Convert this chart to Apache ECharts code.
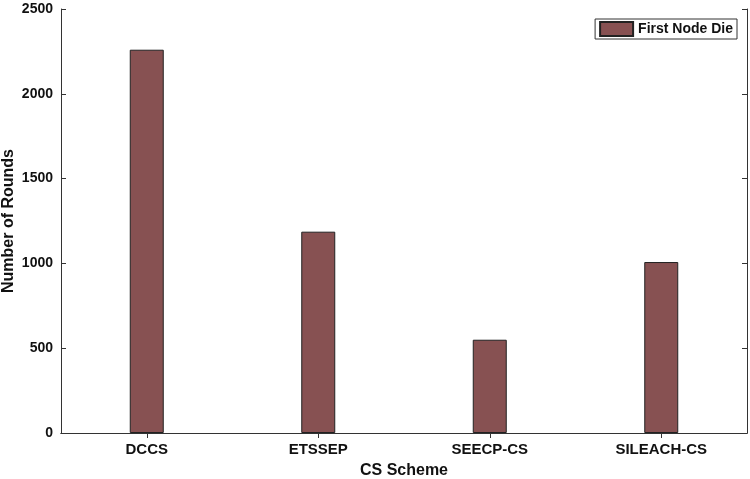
<!DOCTYPE html>
<html><head><meta charset="utf-8">
<script src="https://cdn.jsdelivr.net/npm/echarts@6/dist/echarts.min.js"></script>
<style>html,body{margin:0;padding:0;background:#fff}#c{width:750px;height:479px}</style>
</head><body><div id="c"></div>
<script>
const categories = ['DCCS', 'ETSSEP', 'SEECP-CS', 'SILEACH-CS'];
const firstNodeDie = [2260, 1187, 550, 1008];
const yTicks = [0, 500, 1000, 1500, 2000, 2500];

const font = 'Liberation Sans, Arial, Helvetica, sans-serif';
const axisLine = {show: true, lineStyle: {color: '#333', width: 1}};
const chart = echarts.init(document.getElementById('c'));
chart.setOption({
  animation: false,
  backgroundColor: '#fff',
  grid: {left: 61, right: 3, top: 9, bottom: 46, containLabel: false, outerBoundsMode: 'none'},
  legend: {
    right: 13, top: 19,
    data: ['First Node Die'],
    icon: 'rect',
    itemWidth: 33, itemHeight: 14, itemGap: 4,
    borderColor: '#333', borderWidth: 1, padding: [2, 4, 2, 4],
    textStyle: {fontFamily: font, fontWeight: 'bold', fontSize: 14, color: '#111'}
  },
  xAxis: [{
    type: 'category', data: categories, position: 'bottom',
    axisLine: axisLine,
    axisTick: {show: true, inside: true, length: 5, alignWithLabel: true, lineStyle: {color: '#333'}},
    axisLabel: {fontFamily: font, fontWeight: 'bold', fontSize: 15, color: '#111', margin: 9},
    name: 'CS Scheme', nameLocation: 'middle', nameGap: 30,
    nameTextStyle: {fontFamily: font, fontWeight: 'bold', fontSize: 16, color: '#111'}
  }, {
    type: 'category', data: categories, position: 'top',
    axisLine: axisLine,
    axisTick: {show: true, inside: true, length: 5, alignWithLabel: true, lineStyle: {color: '#333'}},
    axisLabel: {show: false}
  }],
  yAxis: [{
    type: 'value', min: yTicks[0], max: yTicks[yTicks.length - 1], interval: 500,
    position: 'left',
    axisLine: axisLine,
    axisTick: {show: true, inside: true, length: 5, lineStyle: {color: '#333'}},
    splitLine: {show: false},
    axisLabel: {fontFamily: font, fontWeight: 'bold', fontSize: 14, color: '#111', margin: 8,
      formatter: v => String(v)},
    name: 'Number of Rounds', nameLocation: 'middle', nameGap: 44, nameMoveOverlap: false,
    nameTextStyle: {fontFamily: font, fontWeight: 'bold', fontSize: 16, color: '#111'}
  }, {
    type: 'value', min: yTicks[0], max: yTicks[yTicks.length - 1], interval: 500,
    position: 'right',
    axisLine: axisLine,
    axisTick: {show: true, inside: true, length: 5, lineStyle: {color: '#333'}},
    splitLine: {show: false},
    axisLabel: {show: false}
  }],
  series: [{
    name: 'First Node Die', type: 'bar', data: firstNodeDie,
    barWidth: 34,
    itemStyle: {color: '#875152', borderColor: '#222', borderWidth: 1}
  }]
});
</script></body></html>
